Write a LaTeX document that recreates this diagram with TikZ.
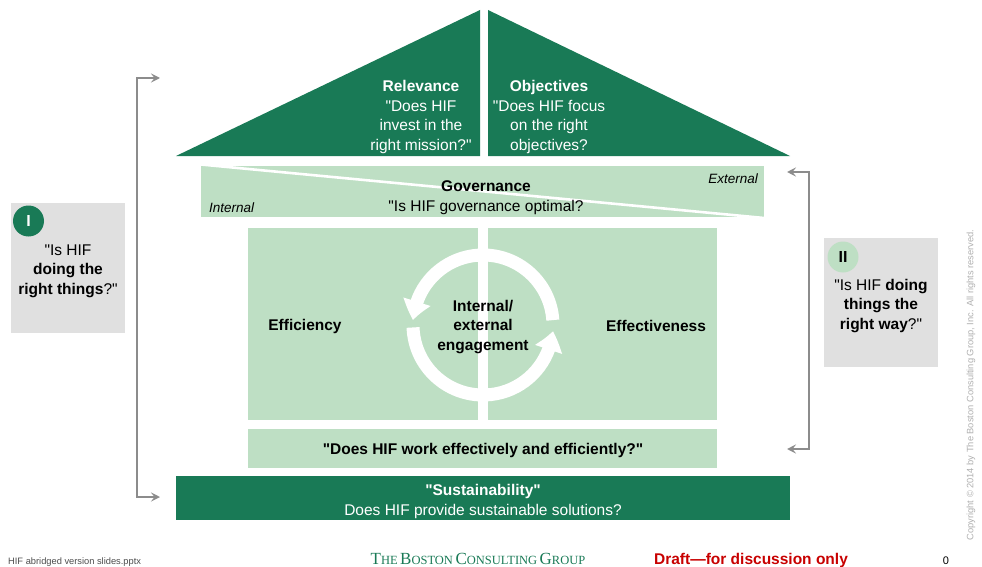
\documentclass[tikz,border=0pt]{standalone}
\usepackage{fontspec}
\setmainfont{Liberation Sans}[Ligatures=TeXOff]
\newfontfamily\logofont{Liberation Serif}
\usetikzlibrary{arrows.meta,bending}

\definecolor{bcgdark}{RGB}{25,122,86}
\definecolor{bcglight}{RGB}{190,223,196}
\definecolor{panelgray}{RGB}{224,224,224}
\definecolor{linegray}{RGB}{140,140,140}
\definecolor{draftred}{RGB}{200,0,0}
\definecolor{notegray}{RGB}{175,175,175}

% large initial + small capitals for the logo type
\newcommand\logocap[2]{{\fontsize{17}{17}\selectfont #1}{\fontsize{12.5}{12.5}\selectfont #2}}

\tikzset{
  txt/.style={font=\fontsize{15.5}{19.5}\selectfont, align=center, inner sep=0pt},
  whitetxt/.style={txt, text=white},
  smallital/.style={font=\fontsize{13.5}{16}\selectfont\itshape, inner sep=0pt},
  panel/.style={fill=panelgray, draw=none, inner sep=0pt},
  badge/.style={circle, minimum size=31pt, inner sep=0pt, font=\fontsize{16}{16}\selectfont\bfseries},
  bracket/.style={draw=linegray, line width=1.4pt,
    {Stealth[length=9pt,width=9pt,inset=3.5pt]}-{Stealth[length=9pt,width=9pt,inset=3.5pt]}},
  ring/.style={white, line width=13pt, -{Triangle[length=19pt,width=27pt,bend]}},
}

\begin{document}
\begin{tikzpicture}[x=1pt,y=-1pt]
\useasboundingbox (0,0) rectangle (982,567);

% ---- roof ----
\fill[bcgdark] (176,156) -- (480,10) -- (480,156) -- cycle;
\fill[bcgdark] (488,10) -- (790,156) -- (488,156) -- cycle;
\node[whitetxt] (relevance) at (421,117)
  {\textbf{Relevance}\\"Does HIF\\invest in the\\right mission?"};
\node[whitetxt] (objectives) at (549,117)
  {\textbf{Objectives}\\"Does HIF focus\\on the right\\objectives?};

% ---- governance band ----
\fill[bcglight] (201,166) rectangle (764,217);
\draw[white, line width=2.6pt] (201,164.5) -- (764,218);
\node[txt] (governance) at (486,197.5)
  {\textbf{Governance}\\"Is HIF governance optimal?};
\node[smallital, anchor=east] (external) at (758,179) {External};
\node[smallital, anchor=west] (internal) at (209,208) {Internal};

% ---- middle panels ----
\fill[bcglight] (248,228) rectangle (478,420);
\fill[bcglight] (488,228) rectangle (717,420);
\fill[bcglight] (248,429) rectangle (717,468);
\node[txt] (efficiency) at (305,326) {\textbf{Efficiency}};
\node[txt] (effectiveness) at (656,326) {\textbf{Effectiveness}};
\node[txt] (question) at (483,450) {\textbf{"Does HIF work effectively and efficiently?"}};

% engagement cycle
\coordinate (cyc) at (483,325);
\draw[ring] (cyc) ++(-4:70) arc[start angle=-4, end angle=-176, radius=70];
\draw[ring] (cyc) ++(-182:70) arc[start angle=-182, end angle=-355, radius=70];
\node[txt] (engagement) at (483,327) {\textbf{Internal/}\\\textbf{external}\\\textbf{engagement}};

% ---- foundation ----
\fill[bcgdark] (176,476) rectangle (790,520);
\node[whitetxt] (sustain) at (483,501.5)
  {\textbf{"Sustainability"}\\Does HIF provide sustainable solutions?};

% ---- side questions ----
\node[panel, minimum width=114pt, minimum height=130pt] (panelI) at (68,268) {};
\node[badge, fill=bcgdark, text=white] (badgeI) at (28.5,221) {I};
\node[txt] (askI) at (68,271) {"Is HIF\\\textbf{doing the}\\\textbf{right things}?"};

\node[panel, minimum width=114pt, minimum height=129pt] (panelII) at (881,302.5) {};
\node[badge, fill=bcglight, text=black] (badgeII) at (843,257) {II};
\node[txt] (askII) at (881,306) {"Is HIF \textbf{doing}\\\textbf{things the}\\\textbf{right way}?"};

% ---- brackets ----
\coordinate (lTop) at (160,78);
\coordinate (lBot) at (160,497);
\coordinate (lSpine) at (137,290);
\draw[bracket] (lTop) -| (lSpine) |- (lBot);

\coordinate (rTop) at (787,172);
\coordinate (rBot) at (787,449);
\coordinate (rSpine) at (809,310);
\draw[bracket] (rTop) -| (rSpine) |- (rBot);

% ---- footer ----
\node[anchor=west, inner sep=0pt, text=black!70, font=\fontsize{9.3}{10}\selectfont] (file) at (8,562)
  {HIF abridged version slides.pptx};
\node[inner sep=0pt, text=bcgdark, font=\logofont] (logo) at (478,559)
  {\logocap{T}{HE} \logocap{B}{OSTON} \logocap{C}{ONSULTING} \logocap{G}{ROUP}};
\node[inner sep=0pt, text=draftred, font=\fontsize{15.5}{16}\selectfont\bfseries] (draft) at (751,560)
  {Draft—for discussion only};
\node[inner sep=0pt, font=\fontsize{11}{12}\selectfont] (page) at (946,561) {0};
\node[inner sep=0pt, rotate=90, text=notegray, font=\fontsize{9.3}{10}\selectfont] (copyright) at (971,385)
  {Copyright © 2014 by The Boston Consulting Group, Inc. All rights reserved.};
\end{tikzpicture}
\end{document}
